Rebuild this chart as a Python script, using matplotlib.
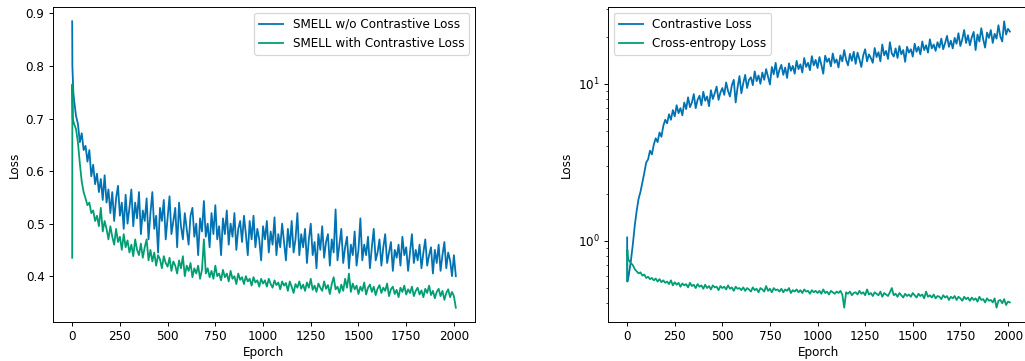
import matplotlib
matplotlib.use('Agg')
import matplotlib.pyplot as plt

# epochs: a few early points, then every 10 epochs up to 2010
epochs = [0, 1, 3, 6] + list(range(10, 2011, 10))

smell_wo = [0.885, 0.80, 0.78, 0.75,
    0.735, 0.705, 0.690, 0.655, 0.672, 0.640, 0.648, 0.618, 0.640, 0.590,
    0.612, 0.575, 0.595, 0.560, 0.585, 0.545, 0.592, 0.540, 0.565, 0.520,
    0.560, 0.505, 0.548, 0.572, 0.515, 0.540, 0.490, 0.555, 0.500, 0.530,
    0.565, 0.495, 0.540, 0.510, 0.560, 0.480, 0.525, 0.505, 0.548, 0.470,
    0.520, 0.560, 0.490, 0.515, 0.445, 0.530, 0.505, 0.545, 0.470, 0.510,
    0.552, 0.480, 0.505, 0.530, 0.455, 0.540, 0.495, 0.470, 0.520, 0.490,
    0.460, 0.515, 0.530, 0.475, 0.500, 0.440, 0.510, 0.485, 0.543, 0.475,
    0.500, 0.455, 0.520, 0.480, 0.535, 0.470, 0.495, 0.440, 0.510, 0.480,
    0.525, 0.460, 0.500, 0.475, 0.520, 0.450, 0.490, 0.505, 0.465, 0.515,
    0.480, 0.440, 0.505, 0.470, 0.515, 0.455, 0.490, 0.470, 0.430, 0.495,
    0.470, 0.505, 0.445, 0.485, 0.460, 0.512, 0.440, 0.480, 0.455, 0.500,
    0.465, 0.430, 0.490, 0.455, 0.505, 0.445, 0.470, 0.520, 0.440, 0.480,
    0.455, 0.490, 0.425, 0.470, 0.500, 0.440, 0.465, 0.415, 0.480, 0.450,
    0.495, 0.435, 0.465, 0.480, 0.420, 0.470, 0.445, 0.527, 0.430, 0.460,
    0.490, 0.425, 0.455, 0.475, 0.415, 0.460, 0.440, 0.485, 0.420, 0.450,
    0.510, 0.430, 0.460, 0.440, 0.475, 0.415, 0.455, 0.490, 0.430, 0.445,
    0.470, 0.420, 0.455, 0.480, 0.425, 0.445, 0.465, 0.410, 0.450, 0.435,
    0.460, 0.420, 0.475, 0.440, 0.455, 0.410, 0.445, 0.480, 0.425, 0.450,
    0.430, 0.460, 0.415, 0.445, 0.470, 0.420, 0.440, 0.455, 0.405, 0.450,
    0.425, 0.460, 0.410, 0.440, 0.465, 0.415, 0.445, 0.430, 0.400, 0.440,
    0.400]

smell_with = [0.435, 0.765, 0.70, 0.695,
    0.690, 0.680, 0.655, 0.615, 0.580, 0.560, 0.548, 0.535, 0.540, 0.520,
    0.525, 0.505, 0.515, 0.495, 0.530, 0.485, 0.505, 0.490, 0.470, 0.495,
    0.475, 0.460, 0.490, 0.465, 0.475, 0.450, 0.480, 0.455, 0.468, 0.445,
    0.460, 0.438, 0.470, 0.450, 0.440, 0.462, 0.435, 0.455, 0.470, 0.430,
    0.450, 0.428, 0.445, 0.420, 0.440, 0.432, 0.415, 0.438, 0.425, 0.418,
    0.435, 0.410, 0.428, 0.420, 0.405, 0.430, 0.415, 0.438, 0.400, 0.420,
    0.410, 0.425, 0.398, 0.415, 0.405, 0.420, 0.395, 0.412, 0.470, 0.405,
    0.415, 0.398, 0.410, 0.395, 0.420, 0.400, 0.405, 0.392, 0.412, 0.398,
    0.405, 0.390, 0.410, 0.395, 0.400, 0.385, 0.405, 0.393, 0.398, 0.385,
    0.400, 0.390, 0.395, 0.382, 0.398, 0.388, 0.392, 0.380, 0.395, 0.386,
    0.392, 0.380, 0.395, 0.385, 0.378, 0.392, 0.383, 0.388, 0.375, 0.390,
    0.382, 0.387, 0.372, 0.390, 0.380, 0.368, 0.385, 0.378, 0.390, 0.376,
    0.384, 0.372, 0.388, 0.378, 0.395, 0.374, 0.382, 0.370, 0.386, 0.378,
    0.372, 0.390, 0.376, 0.383, 0.366, 0.385, 0.398, 0.375, 0.380, 0.368,
    0.384, 0.372, 0.395, 0.378, 0.405, 0.370, 0.386, 0.375, 0.382, 0.366,
    0.380, 0.372, 0.388, 0.365, 0.378, 0.384, 0.370, 0.380, 0.364, 0.376,
    0.383, 0.368, 0.378, 0.372, 0.386, 0.362, 0.375, 0.380, 0.366, 0.374,
    0.360, 0.378, 0.370, 0.382, 0.365, 0.375, 0.368, 0.380, 0.362, 0.372,
    0.378, 0.365, 0.373, 0.360, 0.376, 0.368, 0.382, 0.364, 0.372, 0.358,
    0.370, 0.376, 0.362, 0.372, 0.355, 0.368, 0.375, 0.360, 0.370, 0.362,
    0.340]

contrastive = [1.05, 0.55, 0.56, 0.58,
    0.62, 0.75, 0.95, 1.25, 1.55, 1.85, 2.05, 2.35, 2.70, 3.15,
    3.30, 3.75, 3.55, 4.10, 4.50, 4.25, 4.90, 4.60, 5.40, 5.90,
    5.60, 6.40, 5.90, 6.80, 6.20, 7.30, 6.50, 7.00, 6.30, 7.60,
    6.90, 8.20, 7.10, 7.60, 8.60, 7.00, 7.90, 8.40, 7.30, 8.90,
    7.80, 8.30, 7.20, 9.10, 8.00, 8.70, 9.60, 7.90, 8.80, 9.40,
    8.50, 10.20, 9.00, 8.30, 9.80, 10.60, 7.60, 9.50, 11.20, 8.70,
    10.10, 11.40, 9.40, 10.60, 11.00, 9.80, 12.00, 10.40, 11.30, 10.00,
    11.80, 10.60, 12.40, 11.10, 9.90, 12.80, 11.50, 13.60, 11.00, 12.30,
    13.20, 11.40, 12.70, 10.90, 13.50, 12.10, 13.00, 11.60, 14.00, 12.40,
    13.30, 11.80, 14.60, 12.80, 13.60, 12.20, 15.00, 13.10, 14.20, 12.60,
    14.80, 13.20, 11.60, 15.10, 13.80, 14.50, 12.90, 15.60, 13.60, 14.30,
    12.70, 15.20, 13.90, 16.40, 14.20, 13.10, 15.50, 14.00, 16.00, 13.40,
    15.80, 14.30, 12.80, 15.20, 16.60, 13.90, 15.40, 14.60, 13.60, 16.90,
    14.80, 15.90, 13.90, 17.80, 15.20, 16.20, 14.40, 18.40, 15.60, 14.90,
    16.80, 14.60, 17.40, 15.40, 16.40, 13.80, 17.20, 15.80, 16.60, 14.90,
    18.00, 16.00, 17.20, 15.40, 18.60, 16.40, 17.60, 15.80, 19.20, 16.80,
    17.80, 16.20, 18.40, 17.00, 19.40, 16.60, 18.20, 20.20, 17.20, 18.80,
    16.80, 19.60, 18.00, 21.00, 17.40, 19.20, 22.00, 18.20, 20.40, 17.60,
    19.80, 21.40, 16.40, 20.60, 18.60, 22.60, 19.20, 17.00, 21.20, 19.60,
    22.00, 18.20, 20.80, 19.40, 23.60, 20.00, 18.60, 25.00, 20.60, 22.40,
    21.50]

cross_entropy = [0.56, 0.88, 0.80, 0.76,
    0.75, 0.72, 0.70, 0.66, 0.64, 0.62, 0.63, 0.60, 0.61, 0.58,
    0.59, 0.57, 0.58, 0.56, 0.575, 0.55, 0.57, 0.545, 0.56, 0.54,
    0.55, 0.53, 0.56, 0.52, 0.545, 0.525, 0.54, 0.51, 0.535, 0.52,
    0.53, 0.505, 0.54, 0.515, 0.525, 0.50, 0.53, 0.51, 0.52, 0.495,
    0.525, 0.50, 0.515, 0.49, 0.52, 0.505, 0.51, 0.485, 0.515, 0.50,
    0.51, 0.49, 0.52, 0.495, 0.505, 0.48, 0.51, 0.495, 0.50, 0.485,
    0.505, 0.48, 0.50, 0.49, 0.475, 0.505, 0.485, 0.495, 0.47, 0.50,
    0.49, 0.475, 0.515, 0.48, 0.495, 0.47, 0.50, 0.485, 0.49, 0.475,
    0.495, 0.47, 0.49, 0.48, 0.50, 0.465, 0.485, 0.475, 0.49, 0.47,
    0.485, 0.465, 0.49, 0.475, 0.48, 0.46, 0.485, 0.47, 0.48, 0.465,
    0.48, 0.46, 0.49, 0.465, 0.475, 0.455, 0.48, 0.47, 0.46, 0.475,
    0.465, 0.48, 0.455, 0.375, 0.47, 0.46, 0.475, 0.45, 0.465, 0.47,
    0.455, 0.48, 0.46, 0.47, 0.45, 0.49, 0.455, 0.465, 0.445, 0.47,
    0.46, 0.45, 0.475, 0.44, 0.465, 0.455, 0.445, 0.47, 0.50, 0.45,
    0.46, 0.44, 0.465, 0.45, 0.435, 0.46, 0.445, 0.455, 0.44, 0.465,
    0.45, 0.435, 0.46, 0.445, 0.455, 0.43, 0.475, 0.44, 0.45, 0.435,
    0.455, 0.43, 0.445, 0.44, 0.425, 0.45, 0.435, 0.445, 0.42, 0.44,
    0.43, 0.445, 0.42, 0.44, 0.43, 0.415, 0.44, 0.425, 0.435, 0.415,
    0.435, 0.42, 0.43, 0.41, 0.44, 0.42, 0.425, 0.405, 0.43, 0.415,
    0.42, 0.405, 0.43, 0.375, 0.415, 0.42, 0.40, 0.425, 0.39, 0.41,
    0.405]

blue = '#0173b2'
green = '#029e73'

DPI = 86.4
fig = plt.figure(figsize=(1025 / DPI, 361 / DPI), dpi=DPI)
ax1 = fig.add_axes([53 / 1025, 39 / 361, 422 / 1025, 315 / 361])
ax2 = fig.add_axes([608 / 1025, 39 / 361, 421 / 1025, 315 / 361])

ax1.plot(epochs, smell_wo, color=blue, label='SMELL w/o Contrastive Loss')
ax1.plot(epochs, smell_with, color=green, label='SMELL with Contrastive Loss')
ax1.set_xlabel('Eporch', labelpad=2)
ax1.set_ylabel('Loss')
ax1.legend(loc='upper right')

ax2.plot(epochs, contrastive, color=blue, label='Contrastive Loss')
ax2.plot(epochs, cross_entropy, color=green, label='Cross-entropy Loss')
ax2.set_yscale('log')
ax2.set_xlabel('Eporch', labelpad=2)
ax2.set_ylabel('Loss')
ax2.legend(loc='upper left')

fig.savefig('out.png', dpi=DPI)
